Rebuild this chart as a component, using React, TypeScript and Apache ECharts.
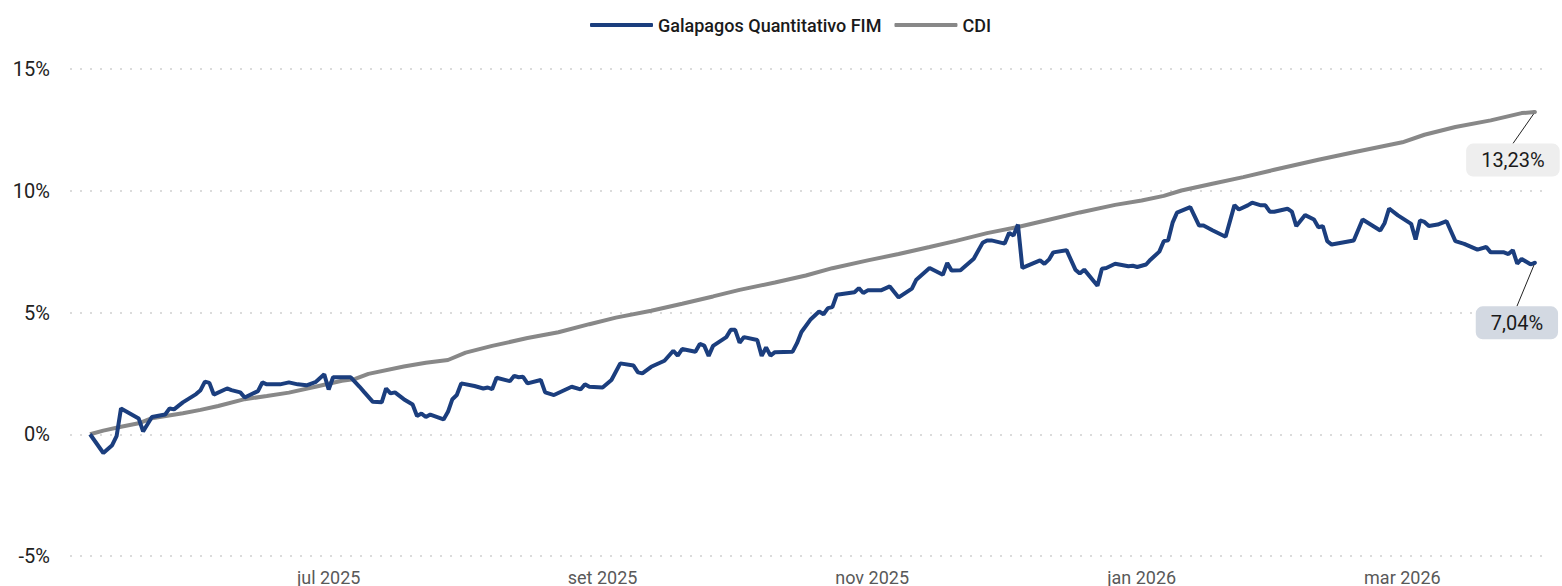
import React, { useEffect, useRef } from 'react';
import * as echarts from 'echarts';

const seriesNames = ['Galapagos Quantitativo FIM', 'CDI'];
const monthNames = ['jan', 'fev', 'mar', 'abr', 'mai', 'jun', 'jul', 'ago', 'set', 'out', 'nov', 'dez'];
const yMin = -5;
const yMax = 15;
const yStep = 5;

const fundDates = [
  '2025-05-08', '2025-05-11', '2025-05-13', '2025-05-14', '2025-05-15', '2025-05-19', '2025-05-20', '2025-05-21',
  '2025-05-22', '2025-05-25', '2025-05-26', '2025-05-27', '2025-05-29', '2025-06-01', '2025-06-02', '2025-06-03',
  '2025-06-04', '2025-06-05', '2025-06-08', '2025-06-09', '2025-06-11', '2025-06-12', '2025-06-15', '2025-06-16',
  '2025-06-17', '2025-06-20', '2025-06-22', '2025-06-24', '2025-06-26', '2025-06-28', '2025-06-30', '2025-07-01',
  '2025-07-02', '2025-07-06', '2025-07-08', '2025-07-09', '2025-07-11', '2025-07-13', '2025-07-14', '2025-07-15',
  '2025-07-16', '2025-07-18', '2025-07-20', '2025-07-21', '2025-07-22', '2025-07-23', '2025-07-24', '2025-07-27',
  '2025-07-28', '2025-07-29', '2025-07-30', '2025-07-31', '2025-08-03', '2025-08-05', '2025-08-06', '2025-08-07',
  '2025-08-08', '2025-08-11', '2025-08-12', '2025-08-13', '2025-08-14', '2025-08-15', '2025-08-18', '2025-08-19',
  '2025-08-21', '2025-08-25', '2025-08-27', '2025-08-28', '2025-08-29', '2025-09-01', '2025-09-03', '2025-09-05',
  '2025-09-08', '2025-09-09', '2025-09-10', '2025-09-12', '2025-09-15', '2025-09-17', '2025-09-18', '2025-09-19',
  '2025-09-22', '2025-09-23', '2025-09-24', '2025-09-25', '2025-09-26', '2025-09-29', '2025-09-30', '2025-10-01',
  '2025-10-02', '2025-10-03', '2025-10-06', '2025-10-07', '2025-10-08', '2025-10-09', '2025-10-10', '2025-10-14',
  '2025-10-15', '2025-10-16', '2025-10-18', '2025-10-20', '2025-10-21', '2025-10-22', '2025-10-23', '2025-10-24',
  '2025-10-28', '2025-10-29', '2025-10-30', '2025-10-31', '2025-11-03', '2025-11-05', '2025-11-07', '2025-11-10',
  '2025-11-11', '2025-11-14', '2025-11-17', '2025-11-18', '2025-11-19', '2025-11-21', '2025-11-24', '2025-11-26',
  '2025-11-27', '2025-11-28', '2025-12-01', '2025-12-02', '2025-12-03', '2025-12-04', '2025-12-05', '2025-12-09',
  '2025-12-10', '2025-12-11', '2025-12-12', '2025-12-15', '2025-12-17', '2025-12-18', '2025-12-19', '2025-12-22',
  '2025-12-23', '2025-12-24', '2025-12-26', '2025-12-29', '2025-12-30', '2025-12-31', '2026-01-02', '2026-01-03',
  '2026-01-05', '2026-01-06', '2026-01-07', '2026-01-08', '2026-01-09', '2026-01-12', '2026-01-14', '2026-01-15',
  '2026-01-17', '2026-01-20', '2026-01-22', '2026-01-23', '2026-01-25', '2026-01-26', '2026-01-28', '2026-01-29',
  '2026-01-30', '2026-01-31', '2026-02-03', '2026-02-04', '2026-02-05', '2026-02-07', '2026-02-09', '2026-02-10',
  '2026-02-11', '2026-02-12', '2026-02-13', '2026-02-18', '2026-02-20', '2026-02-24', '2026-02-25', '2026-02-26',
  '2026-02-28', '2026-03-03', '2026-03-04', '2026-03-05', '2026-03-06', '2026-03-07', '2026-03-09', '2026-03-11',
  '2026-03-13', '2026-03-15', '2026-03-18', '2026-03-20', '2026-03-21', '2026-03-24', '2026-03-25', '2026-03-26',
  '2026-03-27', '2026-03-28', '2026-03-30', '2026-03-31',
];

const fundValues = [
  0.00, -0.77, -0.45, -0.08, 1.06, 0.65, 0.12, 0.41,
  0.71, 0.81, 1.06, 1.02, 1.31, 1.65, 1.81, 2.16,
  2.11, 1.63, 1.88, 1.81, 1.72, 1.51, 1.77, 2.13,
  2.05, 2.05, 2.13, 2.05, 2.01, 2.14, 2.46, 1.84,
  2.34, 2.34, 1.95, 1.74, 1.33, 1.31, 1.88, 1.68,
  1.72, 1.44, 1.22, 0.75, 0.85, 0.71, 0.81, 0.61,
  0.92, 1.44, 1.61, 2.09, 1.98, 1.88, 1.92, 1.85,
  2.32, 2.18, 2.40, 2.34, 2.36, 2.09, 2.23, 1.72,
  1.61, 1.95, 1.84, 2.05, 1.95, 1.92, 2.23, 2.91,
  2.82, 2.54, 2.50, 2.77, 3.02, 3.43, 3.23, 3.50,
  3.39, 3.71, 3.64, 3.22, 3.63, 3.99, 4.29, 4.29,
  3.76, 3.99, 3.87, 3.22, 3.56, 3.23, 3.37, 3.39,
  3.74, 4.20, 4.70, 5.04, 4.93, 5.18, 5.22, 5.73,
  5.83, 6.00, 5.80, 5.91, 5.91, 6.07, 5.62, 5.98,
  6.35, 6.83, 6.55, 7.03, 6.72, 6.73, 7.21, 7.86,
  7.96, 7.96, 7.83, 8.27, 8.16, 8.61, 6.83, 7.14,
  7.00, 7.17, 7.47, 7.56, 6.76, 6.60, 6.76, 6.10,
  6.80, 6.83, 7.00, 6.90, 6.92, 6.87, 6.97, 7.17,
  7.50, 7.93, 7.97, 8.69, 9.10, 9.33, 8.57, 8.57,
  8.38, 8.11, 9.41, 9.23, 9.40, 9.51, 9.40, 9.40,
  9.14, 9.14, 9.26, 9.14, 8.55, 9.00, 8.82, 8.50,
  8.55, 7.93, 7.79, 7.96, 8.82, 8.37, 8.68, 9.27,
  8.99, 8.64, 8.00, 8.78, 8.72, 8.55, 8.61, 8.75,
  7.93, 7.82, 7.58, 7.69, 7.47, 7.47, 7.40, 7.56,
  7.01, 7.20, 6.98, 7.04,
];

const cdiDates = [
  '2025-05-08', '2025-05-11', '2025-05-15', '2025-05-19', '2025-05-22', '2025-05-29', '2025-06-02', '2025-06-06',
  '2025-06-12', '2025-06-17', '2025-06-22', '2025-06-28', '2025-07-04', '2025-07-07', '2025-07-10', '2025-07-18',
  '2025-07-23', '2025-07-28', '2025-08-01', '2025-08-07', '2025-08-15', '2025-08-22', '2025-08-29', '2025-09-04',
  '2025-09-12', '2025-09-19', '2025-09-26', '2025-10-02', '2025-10-10', '2025-10-17', '2025-10-23', '2025-10-31',
  '2025-11-07', '2025-11-14', '2025-11-20', '2025-11-27', '2025-12-04', '2025-12-11', '2025-12-18', '2025-12-26',
  '2026-01-01', '2026-01-06', '2026-01-10', '2026-01-17', '2026-01-24', '2026-01-31', '2026-02-06', '2026-02-10',
  '2026-02-18', '2026-03-01', '2026-03-06', '2026-03-13', '2026-03-21', '2026-03-28', '2026-03-31',
];

const cdiValues = [
  0.00, 0.15, 0.31, 0.45, 0.66, 0.86, 1.00, 1.16,
  1.44, 1.57, 1.71, 1.95, 2.20, 2.27, 2.48, 2.78,
  2.94, 3.05, 3.35, 3.63, 3.95, 4.19, 4.52, 4.79,
  5.07, 5.36, 5.66, 5.93, 6.23, 6.52, 6.82, 7.14,
  7.40, 7.69, 7.94, 8.26, 8.51, 8.81, 9.11, 9.42,
  9.60, 9.79, 10.01, 10.29, 10.56, 10.86, 11.11, 11.27,
  11.58, 11.99, 12.30, 12.62, 12.89, 13.19, 13.23,
];

const FONT = 'Roboto, "Noto Sans", sans-serif';
const fundColor = '#1b3e7e';
const cdiColor = '#888888';

function fmtPct(v: number) {
  return v.toFixed(2).replace('.', ',') + '%';
}

function buildData(dates: string[], values: number[], labelBg: string) {
  const last = dates.length - 1;
  return dates.map((d, i) => {
    if (i !== last) return [d, values[i]];
    return {
      value: [d, values[i]],
      symbol: 'circle',
      symbolSize: 4,
      label: {
        show: true,
        position: 'inside',
        formatter: () => fmtPct(values[i]),
        backgroundColor: labelBg,
        borderRadius: 7,
        padding: [6, 15],
        color: '#1a1a1a',
        fontSize: 20,
        lineHeight: 21,
        fontFamily: FONT,
      },
      labelLine: { show: true, lineStyle: { color: '#222', width: 1 } },
    };
  });
}

export default function App() {
  const ref = useRef<HTMLDivElement>(null);
  useEffect(() => {
    document.body.style.margin = '0';
    if (!ref.current) return;
    const chart = echarts.init(ref.current, undefined, { renderer: 'svg' });
    chart.setOption({
      animation: false,
      backgroundColor: '#ffffff',
      textStyle: { fontFamily: FONT },
      legend: {
        top: 11,
        left: 585,
        icon: 'roundRect',
        itemWidth: 63,
        itemHeight: 4,
        itemGap: 13,
        textStyle: { fontSize: 18, color: '#1a1a1a', fontFamily: FONT, fontWeight: 500 },
        data: seriesNames,
      },
      grid: {
        left: 70,
        right: 12,
        top: 69,
        bottom: 30,
        containLabel: false,
        outerBoundsMode: 'none',
      },
      xAxis: {
        type: 'time',
        min: new Date(2025, 4, 3, 11).getTime(),
        max: new Date(2026, 3, 3, 10).getTime(),
        splitNumber: 5,
        axisLine: { show: false },
        axisTick: { show: false },
        splitLine: { show: false },
        axisLabel: {
          margin: 12,
          fontSize: 18,
          color: '#595959',
          fontFamily: FONT,
          showMinLabel: false,
          showMaxLabel: false,
          formatter: (val: number) => {
            const d = new Date(val);
            if (d.getDate() !== 1 || d.getMonth() % 2 !== 0) return '';
            return monthNames[d.getMonth()] + ' ' + d.getFullYear();
          },
        },
      },
      yAxis: {
        type: 'value',
        min: yMin,
        max: yMax,
        interval: yStep,
        axisLine: { show: false },
        axisTick: { show: false },
        axisLabel: {
          margin: 20,
          fontSize: 20,
          color: '#222222',
          fontFamily: FONT,
          formatter: (v: number) => v + '%',
        },
        splitLine: {
          show: true,
          lineStyle: { color: '#cfcfcf', width: 1.6, type: [2, 8] },
        },
      },
      series: [
        {
          name: seriesNames[0],
          type: 'line',
          symbol: 'none',
          showSymbol: true,
          z: 3,
          color: fundColor,
          lineStyle: { color: fundColor, width: 4 },
          itemStyle: { color: fundColor },
          labelLayout: { dx: -18, dy: 60 },
          data: buildData(fundDates, fundValues, '#d3d9e2'),
        },
        {
          name: seriesNames[1],
          type: 'line',
          symbol: 'none',
          showSymbol: true,
          z: 2,
          color: cdiColor,
          lineStyle: { color: cdiColor, width: 4 },
          itemStyle: { color: cdiColor },
          labelLayout: { dx: -22, dy: 48 },
          data: buildData(cdiDates, cdiValues, '#eeeeee'),
        },
      ],
    });
    return () => chart.dispose();
  }, []);
  return <div ref={ref} style={{ width: 1562, height: 586 }} />;
}
